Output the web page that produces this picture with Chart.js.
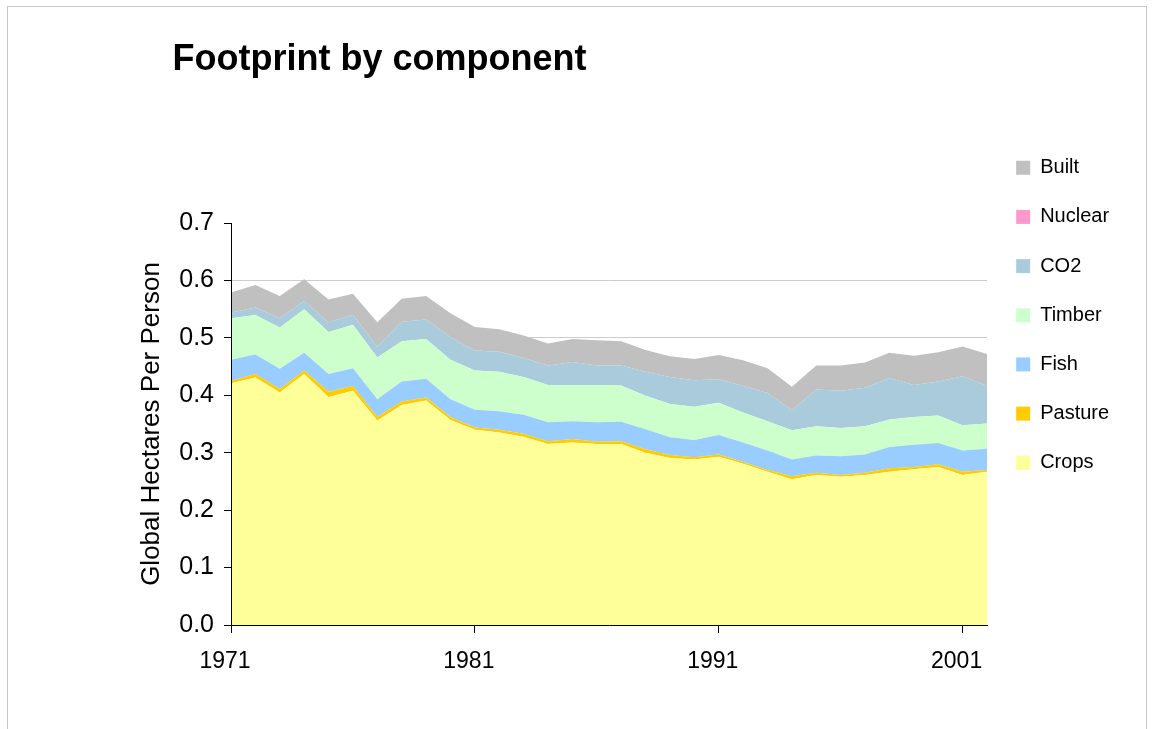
<!DOCTYPE html>
<html>
<head>
<meta charset="utf-8">
<script src="https://cdn.jsdelivr.net/npm/chart.js@4.4.1/dist/chart.umd.min.js"></script>
<style>
  html, body { margin: 0; padding: 0; background: #ffffff; overflow: hidden; }
  #wrap { position: relative; width: 1154px; height: 729px; }
  #frame { position: absolute; left: 7px; top: 6px; width: 1140px; height: 800px; border: 1px solid #c8c8c8; box-sizing: border-box; pointer-events: none; }
  canvas { position: absolute; left: 0; top: 0; }
</style>
</head>
<body>
<div id="wrap">
  <div id="frame"></div>
  <canvas id="c" width="1154" height="729"></canvas>
</div>
<script>
const years = [1971,1972,1973,1974,1975,1976,1977,1978,1979,1980,1981,1982,1983,1984,1985,1986,1987,1988,1989,1990,1991,1992,1993,1994,1995,1996,1997,1998,1999,2000,2001,2002];
const crops   = [0.421,0.431,0.405,0.437,0.397,0.408,0.356,0.383,0.391,0.357,0.340,0.335,0.328,0.315,0.318,0.315,0.315,0.300,0.291,0.288,0.293,0.281,0.267,0.254,0.261,0.258,0.261,0.267,0.271,0.275,0.261,0.267];
const pasture = [0.004,0.006,0.006,0.006,0.009,0.008,0.006,0.006,0.005,0.005,0.004,0.005,0.005,0.005,0.006,0.004,0.005,0.006,0.005,0.004,0.004,0.003,0.003,0.005,0.004,0.003,0.004,0.006,0.004,0.005,0.006,0.003];
const fish    = [0.037,0.034,0.035,0.031,0.031,0.031,0.031,0.035,0.033,0.031,0.031,0.032,0.033,0.033,0.031,0.034,0.034,0.035,0.031,0.030,0.034,0.034,0.034,0.029,0.030,0.033,0.032,0.037,0.039,0.037,0.037,0.037];
const timber  = [0.072,0.069,0.072,0.076,0.073,0.076,0.073,0.070,0.069,0.069,0.068,0.069,0.066,0.065,0.063,0.065,0.063,0.058,0.058,0.058,0.056,0.052,0.051,0.051,0.051,0.049,0.049,0.048,0.048,0.048,0.044,0.044];
const co2     = [0.010,0.013,0.016,0.014,0.017,0.017,0.019,0.034,0.034,0.039,0.035,0.035,0.033,0.034,0.040,0.034,0.035,0.042,0.047,0.046,0.041,0.046,0.049,0.035,0.064,0.065,0.067,0.072,0.056,0.059,0.085,0.065];
const nuclear = [0,0,0,0,0,0,0,0,0,0,0,0,0,0,0,0,0,0,0,0,0,0,0,0,0,0,0,0,0,0,0,0];
const built   = [0.035,0.039,0.039,0.038,0.040,0.037,0.042,0.040,0.041,0.042,0.041,0.039,0.039,0.038,0.040,0.044,0.042,0.038,0.036,0.037,0.042,0.045,0.043,0.041,0.042,0.044,0.044,0.044,0.051,0.051,0.052,0.056];

const seriesNames = ['Crops','Pasture','Fish','Timber','CO2','Nuclear','Built'];
const seriesValues = [crops, pasture, fish, timber, co2, nuclear, built];
const seriesColors = ['#FFFF99','#FFCC00','#99CCFF','#CCFFCC','#AACBDC','#FF99CC','#C0C0C0'];

const xTickYears = [1971, 1981, 1991, 2001];
const yTickValues = [0.0, 0.1, 0.2, 0.3, 0.4, 0.5, 0.6, 0.7];

const FONT = "'Liberation Sans', Arial, Helvetica, sans-serif";

const datasets = seriesNames.map((name, i) => ({
  label: name,
  data: years.map((yr, j) => ({ x: yr, y: seriesValues[i][j] })),
  backgroundColor: seriesColors[i],
  borderColor: seriesColors[i],
  borderWidth: 0,
  pointRadius: 0,
  pointHoverRadius: 0,
  pointHitRadius: 0,
  tension: 0,
  fill: i === 0 ? 'origin' : '-1'
}));

new Chart(document.getElementById('c'), {
  type: 'line',
  data: { datasets },
  options: {
    responsive: false,
    animation: false,
    devicePixelRatio: 1,
    layout: { padding: { left: 172.5, right: 34.9, top: 0, bottom: 0 } },
    plugins: {
      tooltip: { enabled: false },
      title: {
        display: true,
        text: 'Footprint by component',
        align: 'start',
        color: '#000000',
        font: { family: FONT, size: 36, weight: 'bold' },
        padding: { top: 38.4, bottom: 141.4 }
      },
      legend: {
        display: true,
        position: 'right',
        align: 'start',
        reverse: true,
        title: { display: true, text: '', padding: { top: 0, bottom: 114.2 }, font: { size: 12 } },
        labels: {
          boxWidth: 14,
          boxHeight: 14,
          padding: 29.17,
          color: '#000000',
          font: { family: FONT, size: 20 }
        }
      }
    },
    scales: {
      x: {
        type: 'linear',
        min: 1971,
        max: 2002,
        afterBuildTicks: (scale) => { scale.ticks = xTickYears.map(v => ({ value: v })); },
        afterFit: (scale) => { scale.height = 104; },
        grid: { display: true, drawOnChartArea: false, drawTicks: true, tickLength: 8, tickColor: '#000000' },
        border: { display: true, color: '#000000', width: 1, z: 1 },
        ticks: {
          color: '#000000',
          font: { family: FONT, size: 23 },
          padding: 15.2,
          labelOffset: -6,
          maxRotation: 0,
          autoSkip: false,
          callback: (v) => String(v)
        }
      },
      y: {
        stacked: true,
        min: 0,
        max: 0.7,
        afterBuildTicks: (scale) => { scale.ticks = yTickValues.map(v => ({ value: v })); },
        afterFit: (scale) => { scale.width = 58.5; },
        grid: {
          display: true,
          drawOnChartArea: true,
          drawTicks: true,
          tickLength: 7,
          tickColor: '#000000',
          color: (ctx) => (ctx.tick && ctx.tick.value >= 0.69) ? 'rgba(0,0,0,0)' : '#CCCCCC',
          lineWidth: 1
        },
        border: { display: true, color: '#000000', width: 1, z: 1 },
        ticks: {
          color: '#000000',
          font: { family: FONT, size: 25 },
          padding: 10,
          autoSkip: false,
          callback: (v) => Number(v).toFixed(1)
        },
        title: {
          display: true,
          text: 'Global Hectares Per Person',
          color: '#000000',
          font: { family: FONT, size: 26 },
          padding: { top: -36.1, bottom: 0 }
        }
      }
    }
  }
});
</script>
</body>
</html>
